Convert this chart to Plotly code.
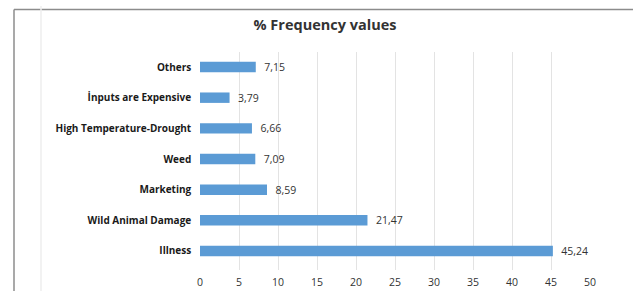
import plotly.graph_objects as go

categories = ["Others", "İnputs are Expensive", "High Temperature-Drought", "Weed",
              "Marketing", "Wild Animal Damage", "Illness"]
values = [7.15, 3.79, 6.66, 7.09, 8.59, 21.47, 45.24]
x_ticks = [0, 5, 10, 15, 20, 25, 30, 35, 40, 45, 50]
title_text = "% Frequency values"

W, H = 633, 291
FONT = "Open Sans"
labels = [f"  {v:.2f}".replace(".", ",") for v in values]

fig = go.Figure(go.Bar(
    x=values, y=categories, orientation="h",
    marker=dict(color="#5B9BD5", line=dict(width=0)),
    text=labels, textposition="outside", cliponaxis=False, constraintext="none",
    texttemplate="%{text}",
    textfont=dict(family=FONT, size=10.5, color="#333333"),
))

px0, px1 = 200, 590
py0, py1 = 52, 270
n = len(categories)
fig.update_layout(
    width=W, height=H,
    margin=dict(l=0, r=0, t=0, b=0, autoexpand=False),
    paper_bgcolor="white", plot_bgcolor="white",
    showlegend=False,
    bargap=0.66,
    title=dict(text=f"<b>{title_text}</b>", x=325 / W, xanchor="center", xref="paper",
               y=1 - 25 / H, yanchor="middle", yref="container",
               font=dict(family=FONT, size=14.5, color="#333333")),
    xaxis=dict(domain=[px0 / W, px1 / W], range=[0, 50], tickvals=x_ticks,
               showgrid=True, gridcolor="#E3E3E3", gridwidth=1, zeroline=False,
               showline=False, ticks="", automargin=False, ticklabelstandoff=4,
               tickfont=dict(family=FONT, size=10.5, color="#333333")),
    yaxis=dict(domain=[1 - py1 / H, 1 - py0 / H], categoryorder="array",
               categoryarray=categories, range=[n - 1 + 0.62, -0.49],
               showgrid=False, ticks="", showline=False, automargin=False,
               tickmode="array", tickvals=categories,
               ticktext=[f"<b>{c}</b>   " for c in categories],
               tickfont=dict(family=FONT, size=10, color="#1a1a1a")),
    font=dict(family=FONT),
    shapes=[
        dict(type="line", xref="paper", yref="paper", x0=14 / W, x1=1.01, y0=1 - 9.5 / H, y1=1 - 9.5 / H,
             line=dict(color="#8c8c8c", width=1.5)),
        dict(type="line", xref="paper", yref="paper", x0=14 / W, x1=14 / W, y0=1 - 9.5 / H, y1=-0.01,
             line=dict(color="#8c8c8c", width=1.5)),
        dict(type="line", xref="paper", yref="paper", x0=41 / W, x1=41 / W, y0=1 - 6 / H, y1=-0.01,
             line=dict(color="#EEEEEE", width=1.5)),
    ],
)
fig.write_html("out.html", config={"displayModeBar": False},
               post_script="document.body.style.margin='0';document.body.style.overflow='hidden';")
